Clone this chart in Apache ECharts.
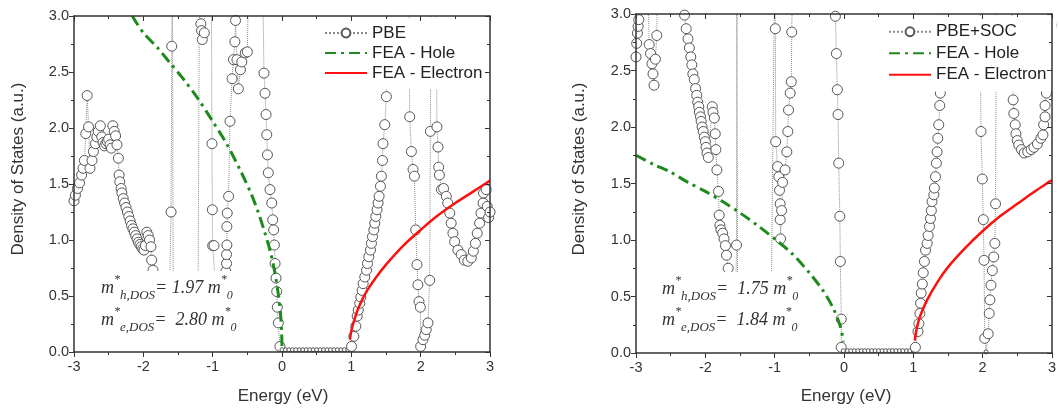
<!DOCTYPE html>
<html>
<head>
<meta charset="utf-8">
<script src="https://cdn.jsdelivr.net/npm/echarts@6/dist/echarts.min.js"></script>
<style>
  html, body { margin: 0; padding: 0; background: #fff; }
  #chart { width: 1059px; height: 410px; }
</style>
</head>
<body>
<div id="chart"></div>
<script>
// left panel: PBE
const pbeE = [-3.00,-2.98,-2.95,-2.92,-2.89,-2.87,-2.85,-2.83,-2.81,-2.79,-2.77,-2.74,-2.72,-2.69,-2.67,-2.65,-2.62,-2.60,-2.58,-2.56,-2.54,-2.52,-2.50,-2.48,-2.46,-2.44,-2.42,-2.40,-2.38,-2.36,-2.35,-2.34,-2.32,-2.31,-2.29,-2.27,-2.25,-2.23,-2.21,-2.19,-2.17,-2.15,-2.13,-2.11,-2.09,-2.07,-2.05,-2.03,-2.01,-1.99,-1.97,-1.95,-1.93,-1.91,-1.89,-1.88,-1.86,-1.84,-1.78,-1.70,-1.63,-1.60,-1.59,-1.58,-1.57,-1.45,-1.30,-1.21,-1.19,-1.17,-1.16,-1.15,-1.12,-1.10,-1.02,-1.01,-1.005,-1.00,-0.98,-0.96,-0.88,-0.82,-0.81,-0.80,-0.80,-0.795,-0.795,-0.79,-0.77,-0.75,-0.72,-0.70,-0.68,-0.67,-0.65,-0.63,-0.60,-0.58,-0.53,-0.50,-0.48,-0.28,-0.26,-0.245,-0.23,-0.22,-0.21,-0.197,-0.173,-0.148,-0.134,-0.12,-0.11,-0.10,-0.086,-0.076,-0.068,-0.053,-0.03,0.00,0.05,0.10,0.15,0.20,0.25,0.30,0.35,0.40,0.45,0.50,0.55,0.60,0.65,0.70,0.75,0.80,0.85,0.90,0.95,1.003,1.036,1.065,1.084,1.10,1.122,1.137,1.156,1.17,1.194,1.219,1.233,1.252,1.276,1.29,1.305,1.324,1.338,1.353,1.371,1.386,1.40,1.42,1.434,1.449,1.457,1.482,1.506,1.52,1.83,1.842,1.866,1.89,1.91,1.928,1.947,1.96,1.976,1.996,2.00,2.033,2.058,2.08,2.105,2.13,2.14,2.15,2.22,2.235,2.25,2.26,2.27,2.30,2.33,2.37,2.39,2.42,2.44,2.465,2.49,2.537,2.585,2.63,2.68,2.73,2.76,2.79,2.816,2.85,2.87,2.90,2.906,2.945,2.96,2.98,3.00];
const pbeD = [1.35,1.40,1.46,1.51,1.58,1.64,1.71,1.95,2.29,2.01,1.64,1.71,1.79,1.86,1.92,1.97,2.02,1.92,1.87,1.84,1.86,1.88,1.90,1.85,1.82,2.02,1.97,1.93,1.85,1.73,1.58,1.52,1.46,1.42,1.37,1.33,1.29,1.25,1.21,1.17,1.13,1.10,1.07,1.04,1.01,0.98,0.96,0.94,0.92,0.91,0.95,1.07,1.04,1.00,0.94,0.82,0.73,0.55,0.35,0.25,0.30,1.25,2.73,3.60,0.60,0.35,0.40,0.60,3.40,2.93,2.87,2.79,2.85,3.40,3.40,1.86,1.27,0.95,0.95,0.60,0.40,0.60,0.72,0.79,0.87,0.955,1.12,1.24,1.39,2.06,2.44,2.61,2.77,2.96,2.61,2.35,2.52,2.59,2.67,2.68,3.40,3.40,2.49,2.31,2.12,1.94,1.76,1.60,1.45,1.33,1.18,1.09,0.955,0.79,0.66,0.54,0.40,0.26,0.05,0.02,0.02,0.02,0.02,0.02,0.02,0.02,0.02,0.02,0.02,0.02,0.02,0.02,0.02,0.02,0.02,0.02,0.02,0.02,0.02,0.05,0.14,0.23,0.32,0.375,0.435,0.49,0.55,0.61,0.67,0.73,0.79,0.85,0.91,0.97,1.03,1.09,1.15,1.21,1.27,1.33,1.39,1.48,1.57,1.71,1.86,2.03,2.28,3.40,3.40,2.10,1.79,1.63,1.57,1.09,0.78,0.60,0.45,0.40,0.05,0.11,0.15,0.20,0.26,0.64,1.97,3.40,3.40,2.01,1.83,1.65,1.58,1.45,1.46,1.39,1.33,1.24,1.15,1.06,0.985,0.91,0.87,0.82,0.81,0.84,0.90,0.97,1.06,1.15,1.24,1.33,1.42,1.45,1.30,1.20,1.25];

// right panel: PBE+SOC
const socE = [-3.00,-2.99,-2.98,-2.97,-2.96,-2.94,-2.83,-2.81,-2.79,-2.77,-2.755,-2.74,-2.72,-2.70,-2.69,-2.31,-2.30,-2.276,-2.25,-2.23,-2.21,-2.195,-2.18,-2.16,-2.14,-2.124,-2.11,-2.095,-2.086,-2.07,-2.06,-2.047,-2.03,-2.014,-2.00,-1.99,-1.976,-1.957,-1.90,-1.89,-1.87,-1.857,-1.848,-1.833,-1.81,-1.80,-1.79,-1.775,-1.75,-1.73,-1.71,-1.695,-1.67,-1.65,-1.58,-1.56,-1.55,-1.545,-1.535,-1.30,-1.05,-1.00,-0.99,-0.985,-0.957,-0.94,-0.93,-0.92,-0.92,-0.915,-0.90,-0.886,-0.85,-0.824,-0.81,-0.80,-0.776,-0.76,-0.753,-0.74,-0.13,-0.124,-0.11,-0.096,-0.086,-0.076,-0.06,-0.053,-0.039,-0.04,-0.01,0.05,0.10,0.15,0.20,0.25,0.30,0.35,0.40,0.45,0.50,0.55,0.60,0.65,0.70,0.75,0.80,0.85,0.90,0.95,1.00,1.03,1.067,1.08,1.095,1.105,1.114,1.13,1.143,1.16,1.176,1.20,1.214,1.233,1.247,1.26,1.27,1.296,1.304,1.32,1.333,1.343,1.353,1.367,1.381,1.39,1.40,1.42,1.96,1.976,1.995,2.01,2.02,2.03,2.05,2.08,2.095,2.105,2.12,2.14,2.16,2.176,2.186,2.20,2.42,2.44,2.45,2.47,2.48,2.50,2.52,2.56,2.60,2.65,2.70,2.74,2.79,2.84,2.87,2.88,2.90,2.90,2.92,2.95,2.97,2.99,3.00];
const socD = [2.62,2.74,2.83,2.89,2.95,3.40,3.40,2.73,2.65,2.56,2.47,2.37,2.60,2.81,3.40,3.40,2.99,2.87,2.78,2.70,2.62,2.55,2.47,2.42,2.34,2.28,2.22,2.18,2.13,2.09,2.05,2.00,1.96,1.91,1.87,1.82,1.77,1.73,2.18,2.13,2.08,1.94,1.80,1.62,1.43,1.22,1.13,1.09,1.06,1.01,0.95,0.865,0.75,0.50,0.40,0.60,0.955,3.40,0.50,0.35,0.40,3.40,2.87,1.87,1.65,1.56,1.44,1.32,1.18,1.01,1.26,1.51,1.62,1.78,1.96,2.15,2.30,2.40,2.84,3.40,3.40,2.98,2.65,2.33,2.11,1.68,1.21,0.81,0.30,0.05,0.02,0.02,0.02,0.02,0.02,0.02,0.02,0.02,0.02,0.02,0.02,0.02,0.02,0.02,0.02,0.02,0.02,0.02,0.02,0.02,0.02,0.05,0.19,0.26,0.35,0.44,0.53,0.61,0.71,0.81,0.91,0.97,1.04,1.12,1.19,1.26,1.34,1.40,1.46,1.56,1.68,1.78,1.90,2.02,2.19,2.30,2.44,3.40,3.40,1.96,1.54,1.18,0.82,0.13,0.01,0.17,0.35,0.47,0.60,0.73,0.85,0.97,1.32,3.40,3.40,2.24,2.12,2.02,1.94,1.88,1.84,1.80,1.77,1.78,1.80,1.82,1.85,1.90,1.93,2.02,2.09,2.19,2.30,2.50,2.72,2.90,3.05];

// free electron approximation curves
const holeE_L = [-2.16,-2.0,-1.8,-1.6,-1.4,-1.2,-1.0,-0.8,-0.6,-0.45,-0.35,-0.25,-0.17,-0.1,-0.05,-0.02,-0.005,0];
const holeD_L = [3.0,2.85,2.72,2.57,2.42,2.25,2.06,1.86,1.62,1.42,1.26,1.07,0.90,0.70,0.50,0.33,0.17,0.03];
const elecE_L = [0.98,1.0,1.05,1.1,1.2,1.35,1.5,1.75,2.0,2.25,2.5,2.75,3.0];
const elecD_L = [0.11,0.19,0.30,0.39,0.52,0.66,0.78,0.95,1.09,1.22,1.33,1.43,1.53];
const holeE_R = [-3,-2.75,-2.5,-2.25,-2,-1.75,-1.5,-1.25,-1,-0.75,-0.5,-0.3,-0.15,-0.05,-0.01];
const holeD_R = [1.75,1.67,1.60,1.51,1.43,1.34,1.24,1.13,1.01,0.88,0.71,0.55,0.39,0.23,0.10];
const elecE_R = [1.02,1.05,1.1,1.2,1.35,1.5,1.75,2.0,2.25,2.5,2.75,3.0];
const elecD_R = [0.11,0.22,0.33,0.47,0.63,0.76,0.93,1.08,1.21,1.32,1.43,1.53];

const xTicks = { min: -3, max: 3, interval: 1 };
const yTicks = { min: 0, max: 3, interval: 0.5 };

// effective masses as printed: [hole, electron]
const massLeft = ['= 1.97', '=  2.80'];
const massRight = ['=  1.75', '=  1.84'];

const pair = (xs, ys) => xs.map((x, i) => [x, ys[i]]);

const sans = 'Liberation Sans, Arial, sans-serif';
const serif = 'Liberation Serif, Times New Roman, serif';
const axisColor = '#333';

function bottomAxis(g) {
  return {
    type: 'value', gridIndex: g, ...xTicks, z: 10,
    axisLine: { show: true, onZero: false, lineStyle: { color: axisColor, width: 1.5 } },
    axisTick: { show: true, inside: false, length: 5, lineStyle: { color: axisColor } },
    minorTick: { show: true, splitNumber: 2, length: 3, lineStyle: { color: axisColor } },
    axisLabel: { color: '#333', fontSize: 14.5, fontFamily: sans, margin: 7 },
    splitLine: { show: false }
  };
}
function topAxis(g) {
  return {
    type: 'value', gridIndex: g, position: 'top', ...xTicks, z: 10,
    axisLine: { show: true, onZero: false, lineStyle: { color: axisColor, width: 1.5 } },
    axisTick: { show: true, inside: true, length: 5, lineStyle: { color: axisColor } },
    minorTick: { show: true, splitNumber: 2, length: 3, lineStyle: { color: axisColor } },
    axisLabel: { show: false },
    splitLine: { show: false }
  };
}
function leftAxis(g) {
  return {
    type: 'value', gridIndex: g, ...yTicks, z: 10,
    axisLine: { show: true, onZero: false, lineStyle: { color: axisColor, width: 1.5 } },
    axisTick: { show: true, inside: false, length: 5, lineStyle: { color: axisColor } },
    minorTick: { show: true, splitNumber: 2, length: 3, lineStyle: { color: axisColor } },
    axisLabel: { color: '#333', fontSize: 14.5, fontFamily: sans, margin: 5,
      formatter: v => v.toFixed(1) },
    splitLine: { show: false }
  };
}
function rightAxis(g) {
  return {
    type: 'value', gridIndex: g, position: 'right', ...yTicks, z: 10,
    axisLine: { show: true, onZero: false, lineStyle: { color: axisColor, width: 1.5 } },
    axisTick: { show: true, inside: true, length: 5, lineStyle: { color: axisColor } },
    minorTick: { show: true, splitNumber: 2, length: 3, lineStyle: { color: axisColor } },
    axisLabel: { show: false },
    splitLine: { show: false }
  };
}

function dosSeries(name, data, idx) {
  return {
    name, type: 'line', data, xAxisIndex: idx, yAxisIndex: idx, z: 2,
    symbol: 'circle',
    symbolSize: v => (v[1] < 0.03 ? 4 : 10),
    itemStyle: { color: '#fff', borderColor: '#555', borderWidth: 1 },
    lineStyle: { color: '#8a8a8a', width: 1, type: 'dotted' },
    clip: true
  };
}
function holeSeries(data, idx) {
  return {
    name: 'FEA - Hole', type: 'line', data, xAxisIndex: idx, yAxisIndex: idx, z: 3,
    symbol: 'none', smooth: 0.3,
    itemStyle: { color: '#1e8a1e' },
    lineStyle: { color: '#1e8a1e', width: 3, type: [11, 5, 3, 5] },
    clip: true
  };
}
function elecSeries(data, idx) {
  return {
    name: 'FEA - Electron', type: 'line', data, xAxisIndex: idx, yAxisIndex: idx, z: 3,
    symbol: 'none', smooth: 0.3,
    itemStyle: { color: '#ff1010' },
    lineStyle: { color: '#ff1010', width: 2.5 },
    clip: true
  };
}

function massLabel(x, y, carrier, value) {
  return {
    type: 'text', x, y, z: 60,
    style: {
      text: '{m|m}{sup|*}{sub|' + carrier + ',DOS}{m|' + value + ' m}{sup|*}{sub0|0}',
      verticalAlign: 'middle',
      fill: '#333',
      rich: {
        m: { fontFamily: serif, fontStyle: 'italic', fontSize: 18, lineHeight: 28, color: '#333' },
        sup: { fontFamily: serif, fontStyle: 'italic', fontSize: 12, lineHeight: 12, verticalAlign: 'top', color: '#333' },
        sub: { fontFamily: serif, fontStyle: 'italic', fontSize: 13, lineHeight: 13, verticalAlign: 'bottom', color: '#333' },
        sub0: { fontFamily: serif, fontStyle: 'italic', fontSize: 12, lineHeight: 12, verticalAlign: 'bottom', color: '#333' }
      }
    }
  };
}

function legendFor(first, left, top, lh, padRight) {
  return {
    data: [
      first,
      { name: 'FEA - Hole', itemStyle: { opacity: 0 } },
      { name: 'FEA - Electron', itemStyle: { opacity: 0 } }
    ],
    orient: 'vertical', left, top, z: 5,
    backgroundColor: '#fff',
    padding: [5, padRight, 6, 2],
    itemWidth: 42, itemHeight: 11, itemGap: 0,
    textStyle: { fontSize: 17, fontFamily: sans, color: '#222', lineHeight: lh },
    selectedMode: false
  };
}

const chart = echarts.init(document.getElementById('chart'), null, { renderer: 'canvas' });
chart.setOption({
  animation: false,
  backgroundColor: '#fff',
  grid: [
    { left: 74, top: 16, width: 416, height: 336 },
    { left: 636, top: 14, width: 421, height: 339 }
  ],
  xAxis: [bottomAxis(0), topAxis(0), bottomAxis(1), topAxis(1)],
  yAxis: [leftAxis(0), rightAxis(0), leftAxis(1), rightAxis(1)],
  legend: [legendFor('PBE', 322, 18, 20, 4), legendFor('PBE+SOC', 886, 16, 21.5, 10)],
  series: [
    dosSeries('PBE', pair(pbeE, pbeD), 0),
    holeSeries(pair(holeE_L, holeD_L), 0),
    elecSeries(pair(elecE_L, elecD_L), 0),
    dosSeries('PBE+SOC', pair(socE, socD), 2),
    holeSeries(pair(holeE_R, holeD_R), 2),
    elecSeries(pair(elecE_R, elecD_R), 2)
  ],
  graphic: [
    { type: 'rect', z: 50, shape: { x: 76, y: 271, width: 160, height: 80 }, style: { fill: '#fff' } },
    { type: 'rect', z: 50, shape: { x: 638, y: 272, width: 167, height: 80 }, style: { fill: '#fff' } },
    massLabel(101, 288, 'h', massLeft[0]),
    massLabel(101, 320, 'e', massLeft[1]),
    massLabel(662, 289, 'h', massRight[0]),
    massLabel(662, 320, 'e', massRight[1]),
    { type: 'text', x: 18, y: 169, rotation: Math.PI / 2, z: 60,
      style: { text: 'Density of States (a.u.)', font: '17px ' + sans, fill: '#333', align: 'center', verticalAlign: 'middle' } },
    { type: 'text', x: 579, y: 169, rotation: Math.PI / 2, z: 60,
      style: { text: 'Density of States (a.u.)', font: '17px ' + sans, fill: '#333', align: 'center', verticalAlign: 'middle' } },
    { type: 'text', x: 283, y: 396, z: 60,
      style: { text: 'Energy (eV)', font: '17px ' + sans, fill: '#333', align: 'center', verticalAlign: 'middle' } },
    { type: 'text', x: 846, y: 396, z: 60,
      style: { text: 'Energy (eV)', font: '17px ' + sans, fill: '#333', align: 'center', verticalAlign: 'middle' } }
  ]
});
</script>
</body>
</html>
